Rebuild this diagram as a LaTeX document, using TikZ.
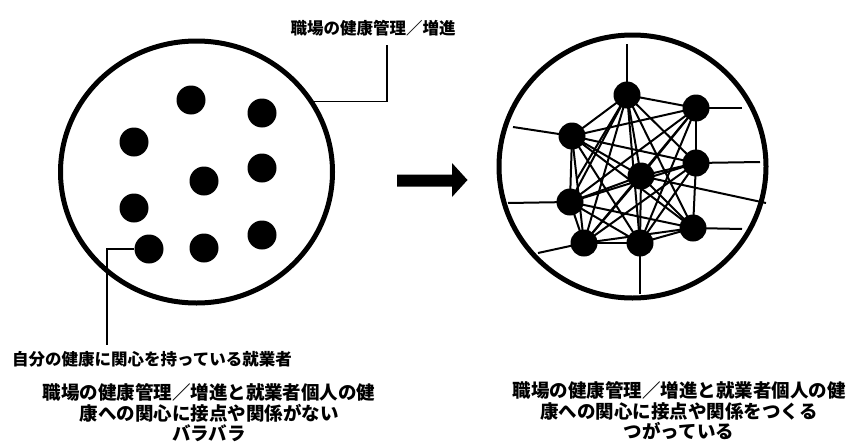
\documentclass[tikz,border=0pt]{standalone}
\usepackage{fontspec}
\newfontfamily\cjk{Noto Sans CJK JP}
\usetikzlibrary{shapes.geometric}
\begin{document}
\begin{tikzpicture}[x=1pt,y=-1pt,
  big/.style={draw, ellipse, line width=5pt, inner sep=0pt},
  dot/.style={circle, fill=black, inner sep=0pt, minimum size=29pt},
  rdot/.style={circle, fill=black, inner sep=0pt, minimum size=27pt},
  net/.style={line width=2pt},
  lead/.style={line width=1.5pt},
  lbl/.style={font=\cjk\bfseries\fontsize{16.5}{18}\selectfont, inner sep=0pt},
  captxt/.style={font=\cjk\bfseries\fontsize{18.5}{20.5}\selectfont, align=center, inner sep=0pt}]
\useasboundingbox (0,0) rectangle (852,442);
\fill[white] (0,0) rectangle (852,442);

% left circle
\node[big, minimum width=272pt, minimum height=262pt] (L) at (196.5,172) {};
\node[dot] (l1) at (191,100) {};
\node[dot] (l2) at (262,113) {};
\node[dot] (l3) at (134,142) {};
\node[dot] (l4) at (262,168) {};
\node[dot] (l5) at (204,181) {};
\node[dot] (l6) at (134,208) {};
\node[dot] (l7) at (149,249) {};
\node[dot] (l8) at (204,248) {};
\node[dot] (l9) at (262,235) {};

% labels
\node[lbl] (t1) at (373,28) {職場の健康管理／増進};
\coordinate (k1) at (387,45);
\draw[lead] (L.31) -| (k1);
\node[lbl, anchor=west] (t2) at (12,359) {自分の健康に関心を持っている就業者};
\coordinate (k2) at (107,345);
\draw[lead] (l7.west) -| (k2);

% big arrow
\fill (397,174.5) -- (452,174.5) -- (452,163) -- (467.5,180) -- (452,197) -- (452,186.5) -- (397,186.5) -- cycle;

% right circle
\node[big, minimum width=267pt, minimum height=263pt] (R) at (632.5,166.5) {};
\coordinate (r1) at (627,95);
\coordinate (r2) at (696,108);
\coordinate (r3) at (572,136);
\coordinate (r4) at (696,163);
\coordinate (r5) at (641,176);
\coordinate (r6) at (570,202);
\coordinate (r7) at (693,228);
\coordinate (r8) at (584,243);
\coordinate (r9) at (640,243);

% spokes to the rim
\coordinate (s1) at (627,44);
\coordinate (s2) at (742,108);
\coordinate (s3) at (513,127);
\coordinate (s4) at (760,162);
\coordinate (s5) at (766,203);
\coordinate (s6) at (508,203);
\coordinate (s7) at (742,229);
\coordinate (s8) at (538,253);
\coordinate (s9) at (640,294);
\coordinate (fr) at (577,179);
\foreach \i in {1,...,9} \draw[net] (r\i) -- (s\i);
\draw[net] (r1) -- (fr);

% network edges
\foreach \a/\b in {1/2,1/3,1/4,1/5,1/6,1/7,1/8,1/9,
                   2/3,2/4,2/5,2/6,2/8,2/9,
                   3/4,3/5,3/6,3/7,3/8,3/9,
                   4/5,4/6,4/8,4/9,4/7,
                   5/6,5/8,5/9,5/7,
                   6/8,6/7,6/9,
                   7/8,7/9,8/9}
  \draw[net] (r\a) -- (r\b);

\foreach \i in {1,...,9} \node[rdot] (d\i) at (r\i) {};

% captions
\node[captxt] (c1) at (209,413) {職場の健康管理／増進と就業者個人の健\\康への関心に接点や関係がない\\バラバラ};
\node[captxt] (c2) at (679,411) {職場の健康管理／増進と就業者個人の健\\康への関心に接点や関係をつくる\\つがっている};
\end{tikzpicture}
\end{document}
